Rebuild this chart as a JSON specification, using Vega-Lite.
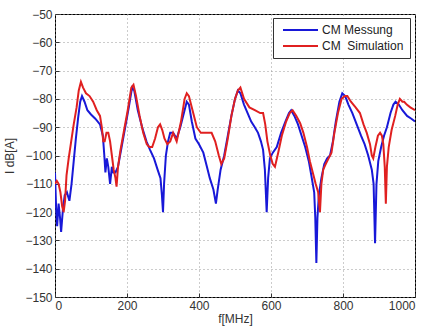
{
  "$schema": "https://vega.github.io/schema/vega-lite/v6.json",
  "autosize": {"type": "none"},
  "padding": {"left": 55, "top": 14, "right": 11, "bottom": 34},
  "width": 360,
  "height": 283,
  "background": "white",
  "config": {
    "view": {"stroke": "black", "strokeWidth": 1},
    "font": "Liberation Sans",
    "axis": {
      "labelFont": "Liberation Sans",
      "labelFontSize": 12,
      "labelColor": "#333333",
      "titleFont": "Liberation Sans",
      "titleFontSize": 12,
      "titleFontWeight": "normal",
      "titleColor": "#333333",
      "grid": true,
      "gridColor": "#999999",
      "gridDash": [1, 3],
      "gridWidth": 1,
      "domain": false,
      "tickColor": "#333333",
      "tickSize": -4,
      "labelPadding": 7
    }
  },
  "data": {
    "values": [
      {"f":0,"v":-106,"s":"CM Messung"},{"f":3,"v":-118,"s":"CM Messung"},{"f":6,"v":-125,"s":"CM Messung"},{"f":10,"v":-117,"s":"CM Messung"},{"f":14,"v":-122,"s":"CM Messung"},{"f":17,"v":-127,"s":"CM Messung"},{"f":22,"v":-119,"s":"CM Messung"},{"f":27,"v":-114,"s":"CM Messung"},{"f":33,"v":-113,"s":"CM Messung"},{"f":40,"v":-116,"s":"CM Messung"},{"f":46,"v":-110,"s":"CM Messung"},{"f":52,"v":-102,"s":"CM Messung"},{"f":58,"v":-94,"s":"CM Messung"},{"f":64,"v":-87,"s":"CM Messung"},{"f":70,"v":-81,"s":"CM Messung"},{"f":75,"v":-79,"s":"CM Messung"},{"f":82,"v":-81,"s":"CM Messung"},{"f":90,"v":-84,"s":"CM Messung"},{"f":100,"v":-85.5,"s":"CM Messung"},{"f":112,"v":-87,"s":"CM Messung"},{"f":125,"v":-89,"s":"CM Messung"},{"f":133,"v":-93,"s":"CM Messung"},{"f":137,"v":-100,"s":"CM Messung"},{"f":140,"v":-106,"s":"CM Messung"},{"f":144,"v":-101,"s":"CM Messung"},{"f":148,"v":-104,"s":"CM Messung"},{"f":153,"v":-110,"s":"CM Messung"},{"f":158,"v":-104,"s":"CM Messung"},{"f":162,"v":-106,"s":"CM Messung"},{"f":168,"v":-106,"s":"CM Messung"},{"f":175,"v":-104,"s":"CM Messung"},{"f":185,"v":-97,"s":"CM Messung"},{"f":195,"v":-90,"s":"CM Messung"},{"f":205,"v":-83,"s":"CM Messung"},{"f":214,"v":-76,"s":"CM Messung"},{"f":220,"v":-77,"s":"CM Messung"},{"f":230,"v":-84,"s":"CM Messung"},{"f":242,"v":-90,"s":"CM Messung"},{"f":254,"v":-95,"s":"CM Messung"},{"f":264,"v":-98,"s":"CM Messung"},{"f":275,"v":-101,"s":"CM Messung"},{"f":285,"v":-105,"s":"CM Messung"},{"f":293,"v":-108,"s":"CM Messung"},{"f":297,"v":-114,"s":"CM Messung"},{"f":300,"v":-120,"s":"CM Messung"},{"f":303,"v":-110,"s":"CM Messung"},{"f":308,"v":-100,"s":"CM Messung"},{"f":314,"v":-95,"s":"CM Messung"},{"f":320,"v":-92,"s":"CM Messung"},{"f":328,"v":-92,"s":"CM Messung"},{"f":338,"v":-94,"s":"CM Messung"},{"f":348,"v":-90,"s":"CM Messung"},{"f":358,"v":-85,"s":"CM Messung"},{"f":366,"v":-81,"s":"CM Messung"},{"f":372,"v":-82,"s":"CM Messung"},{"f":380,"v":-88,"s":"CM Messung"},{"f":390,"v":-94,"s":"CM Messung"},{"f":400,"v":-96,"s":"CM Messung"},{"f":412,"v":-99,"s":"CM Messung"},{"f":422,"v":-104,"s":"CM Messung"},{"f":430,"v":-108,"s":"CM Messung"},{"f":440,"v":-112,"s":"CM Messung"},{"f":447,"v":-117,"s":"CM Messung"},{"f":452,"v":-112,"s":"CM Messung"},{"f":460,"v":-105,"s":"CM Messung"},{"f":470,"v":-100,"s":"CM Messung"},{"f":480,"v":-93,"s":"CM Messung"},{"f":490,"v":-86,"s":"CM Messung"},{"f":500,"v":-80,"s":"CM Messung"},{"f":508,"v":-77,"s":"CM Messung"},{"f":515,"v":-78,"s":"CM Messung"},{"f":525,"v":-82,"s":"CM Messung"},{"f":535,"v":-85,"s":"CM Messung"},{"f":545,"v":-88,"s":"CM Messung"},{"f":555,"v":-90,"s":"CM Messung"},{"f":564,"v":-92,"s":"CM Messung"},{"f":572,"v":-95,"s":"CM Messung"},{"f":578,"v":-98,"s":"CM Messung"},{"f":583,"v":-105,"s":"CM Messung"},{"f":588,"v":-120,"s":"CM Messung"},{"f":592,"v":-108,"s":"CM Messung"},{"f":597,"v":-101,"s":"CM Messung"},{"f":605,"v":-99,"s":"CM Messung"},{"f":616,"v":-97,"s":"CM Messung"},{"f":628,"v":-92,"s":"CM Messung"},{"f":640,"v":-88,"s":"CM Messung"},{"f":650,"v":-85,"s":"CM Messung"},{"f":656,"v":-84,"s":"CM Messung"},{"f":665,"v":-86,"s":"CM Messung"},{"f":675,"v":-89,"s":"CM Messung"},{"f":685,"v":-93,"s":"CM Messung"},{"f":695,"v":-97,"s":"CM Messung"},{"f":705,"v":-102,"s":"CM Messung"},{"f":712,"v":-107,"s":"CM Messung"},{"f":720,"v":-113,"s":"CM Messung"},{"f":723,"v":-122,"s":"CM Messung"},{"f":726,"v":-138,"s":"CM Messung"},{"f":729,"v":-122,"s":"CM Messung"},{"f":733,"v":-114,"s":"CM Messung"},{"f":740,"v":-108,"s":"CM Messung"},{"f":748,"v":-103,"s":"CM Messung"},{"f":756,"v":-101,"s":"CM Messung"},{"f":764,"v":-100,"s":"CM Messung"},{"f":772,"v":-95,"s":"CM Messung"},{"f":780,"v":-88,"s":"CM Messung"},{"f":790,"v":-81,"s":"CM Messung"},{"f":798,"v":-78,"s":"CM Messung"},{"f":806,"v":-79,"s":"CM Messung"},{"f":815,"v":-82,"s":"CM Messung"},{"f":826,"v":-85,"s":"CM Messung"},{"f":838,"v":-89,"s":"CM Messung"},{"f":850,"v":-93,"s":"CM Messung"},{"f":860,"v":-96,"s":"CM Messung"},{"f":870,"v":-100,"s":"CM Messung"},{"f":880,"v":-105,"s":"CM Messung"},{"f":885,"v":-110,"s":"CM Messung"},{"f":889,"v":-131,"s":"CM Messung"},{"f":893,"v":-110,"s":"CM Messung"},{"f":898,"v":-102,"s":"CM Messung"},{"f":906,"v":-97,"s":"CM Messung"},{"f":914,"v":-93,"s":"CM Messung"},{"f":922,"v":-90,"s":"CM Messung"},{"f":932,"v":-85,"s":"CM Messung"},{"f":940,"v":-82,"s":"CM Messung"},{"f":946,"v":-81,"s":"CM Messung"},{"f":955,"v":-82,"s":"CM Messung"},{"f":965,"v":-84,"s":"CM Messung"},{"f":978,"v":-86,"s":"CM Messung"},{"f":990,"v":-87,"s":"CM Messung"},{"f":1000,"v":-88,"s":"CM Messung"},
      {"f":0,"v":-110,"s":"CM\u00a0 Simulation"},{"f":5,"v":-109,"s":"CM\u00a0 Simulation"},{"f":10,"v":-110,"s":"CM\u00a0 Simulation"},{"f":15,"v":-113,"s":"CM\u00a0 Simulation"},{"f":20,"v":-118,"s":"CM\u00a0 Simulation"},{"f":24,"v":-120,"s":"CM\u00a0 Simulation"},{"f":28,"v":-116,"s":"CM\u00a0 Simulation"},{"f":32,"v":-107,"s":"CM\u00a0 Simulation"},{"f":38,"v":-101,"s":"CM\u00a0 Simulation"},{"f":45,"v":-95,"s":"CM\u00a0 Simulation"},{"f":52,"v":-89,"s":"CM\u00a0 Simulation"},{"f":60,"v":-83,"s":"CM\u00a0 Simulation"},{"f":66,"v":-77,"s":"CM\u00a0 Simulation"},{"f":72,"v":-74,"s":"CM\u00a0 Simulation"},{"f":78,"v":-76,"s":"CM\u00a0 Simulation"},{"f":86,"v":-78,"s":"CM\u00a0 Simulation"},{"f":96,"v":-79,"s":"CM\u00a0 Simulation"},{"f":106,"v":-81,"s":"CM\u00a0 Simulation"},{"f":116,"v":-84,"s":"CM\u00a0 Simulation"},{"f":125,"v":-86,"s":"CM\u00a0 Simulation"},{"f":130,"v":-90,"s":"CM\u00a0 Simulation"},{"f":134,"v":-95,"s":"CM\u00a0 Simulation"},{"f":138,"v":-95,"s":"CM\u00a0 Simulation"},{"f":143,"v":-92,"s":"CM\u00a0 Simulation"},{"f":148,"v":-92,"s":"CM\u00a0 Simulation"},{"f":153,"v":-95,"s":"CM\u00a0 Simulation"},{"f":158,"v":-100,"s":"CM\u00a0 Simulation"},{"f":163,"v":-105,"s":"CM\u00a0 Simulation"},{"f":168,"v":-108,"s":"CM\u00a0 Simulation"},{"f":171,"v":-111,"s":"CM\u00a0 Simulation"},{"f":175,"v":-104,"s":"CM\u00a0 Simulation"},{"f":182,"v":-98,"s":"CM\u00a0 Simulation"},{"f":192,"v":-91,"s":"CM\u00a0 Simulation"},{"f":202,"v":-84,"s":"CM\u00a0 Simulation"},{"f":212,"v":-76,"s":"CM\u00a0 Simulation"},{"f":218,"v":-75,"s":"CM\u00a0 Simulation"},{"f":225,"v":-79,"s":"CM\u00a0 Simulation"},{"f":235,"v":-86,"s":"CM\u00a0 Simulation"},{"f":245,"v":-92,"s":"CM\u00a0 Simulation"},{"f":255,"v":-96,"s":"CM\u00a0 Simulation"},{"f":262,"v":-97,"s":"CM\u00a0 Simulation"},{"f":270,"v":-97,"s":"CM\u00a0 Simulation"},{"f":278,"v":-94,"s":"CM\u00a0 Simulation"},{"f":286,"v":-90,"s":"CM\u00a0 Simulation"},{"f":292,"v":-89,"s":"CM\u00a0 Simulation"},{"f":298,"v":-91,"s":"CM\u00a0 Simulation"},{"f":304,"v":-94,"s":"CM\u00a0 Simulation"},{"f":312,"v":-96,"s":"CM\u00a0 Simulation"},{"f":320,"v":-95,"s":"CM\u00a0 Simulation"},{"f":328,"v":-92,"s":"CM\u00a0 Simulation"},{"f":338,"v":-95,"s":"CM\u00a0 Simulation"},{"f":350,"v":-88,"s":"CM\u00a0 Simulation"},{"f":360,"v":-80,"s":"CM\u00a0 Simulation"},{"f":366,"v":-78,"s":"CM\u00a0 Simulation"},{"f":372,"v":-79,"s":"CM\u00a0 Simulation"},{"f":382,"v":-84,"s":"CM\u00a0 Simulation"},{"f":394,"v":-90,"s":"CM\u00a0 Simulation"},{"f":405,"v":-92,"s":"CM\u00a0 Simulation"},{"f":415,"v":-92,"s":"CM\u00a0 Simulation"},{"f":425,"v":-92,"s":"CM\u00a0 Simulation"},{"f":435,"v":-92,"s":"CM\u00a0 Simulation"},{"f":445,"v":-95,"s":"CM\u00a0 Simulation"},{"f":455,"v":-100,"s":"CM\u00a0 Simulation"},{"f":462,"v":-103,"s":"CM\u00a0 Simulation"},{"f":470,"v":-101,"s":"CM\u00a0 Simulation"},{"f":480,"v":-94,"s":"CM\u00a0 Simulation"},{"f":490,"v":-86,"s":"CM\u00a0 Simulation"},{"f":500,"v":-80,"s":"CM\u00a0 Simulation"},{"f":508,"v":-77,"s":"CM\u00a0 Simulation"},{"f":515,"v":-76,"s":"CM\u00a0 Simulation"},{"f":525,"v":-80,"s":"CM\u00a0 Simulation"},{"f":540,"v":-83,"s":"CM\u00a0 Simulation"},{"f":555,"v":-84,"s":"CM\u00a0 Simulation"},{"f":570,"v":-85,"s":"CM\u00a0 Simulation"},{"f":578,"v":-85,"s":"CM\u00a0 Simulation"},{"f":584,"v":-89,"s":"CM\u00a0 Simulation"},{"f":590,"v":-95,"s":"CM\u00a0 Simulation"},{"f":598,"v":-100,"s":"CM\u00a0 Simulation"},{"f":605,"v":-103,"s":"CM\u00a0 Simulation"},{"f":611,"v":-104,"s":"CM\u00a0 Simulation"},{"f":620,"v":-99,"s":"CM\u00a0 Simulation"},{"f":630,"v":-93,"s":"CM\u00a0 Simulation"},{"f":642,"v":-88,"s":"CM\u00a0 Simulation"},{"f":652,"v":-85,"s":"CM\u00a0 Simulation"},{"f":660,"v":-84,"s":"CM\u00a0 Simulation"},{"f":670,"v":-86,"s":"CM\u00a0 Simulation"},{"f":681,"v":-88.6,"s":"CM\u00a0 Simulation"},{"f":690,"v":-92,"s":"CM\u00a0 Simulation"},{"f":700,"v":-97,"s":"CM\u00a0 Simulation"},{"f":708,"v":-102,"s":"CM\u00a0 Simulation"},{"f":716,"v":-106,"s":"CM\u00a0 Simulation"},{"f":724,"v":-110,"s":"CM\u00a0 Simulation"},{"f":731,"v":-113,"s":"CM\u00a0 Simulation"},{"f":736,"v":-120,"s":"CM\u00a0 Simulation"},{"f":740,"v":-110,"s":"CM\u00a0 Simulation"},{"f":745,"v":-105,"s":"CM\u00a0 Simulation"},{"f":752,"v":-103,"s":"CM\u00a0 Simulation"},{"f":760,"v":-101,"s":"CM\u00a0 Simulation"},{"f":768,"v":-99,"s":"CM\u00a0 Simulation"},{"f":776,"v":-92,"s":"CM\u00a0 Simulation"},{"f":786,"v":-85,"s":"CM\u00a0 Simulation"},{"f":796,"v":-80,"s":"CM\u00a0 Simulation"},{"f":805,"v":-79,"s":"CM\u00a0 Simulation"},{"f":812,"v":-79,"s":"CM\u00a0 Simulation"},{"f":822,"v":-81,"s":"CM\u00a0 Simulation"},{"f":835,"v":-83,"s":"CM\u00a0 Simulation"},{"f":847,"v":-85,"s":"CM\u00a0 Simulation"},{"f":857,"v":-89,"s":"CM\u00a0 Simulation"},{"f":866,"v":-92,"s":"CM\u00a0 Simulation"},{"f":875,"v":-96,"s":"CM\u00a0 Simulation"},{"f":880,"v":-100,"s":"CM\u00a0 Simulation"},{"f":884,"v":-101,"s":"CM\u00a0 Simulation"},{"f":890,"v":-97,"s":"CM\u00a0 Simulation"},{"f":897,"v":-93,"s":"CM\u00a0 Simulation"},{"f":903,"v":-92,"s":"CM\u00a0 Simulation"},{"f":908,"v":-93,"s":"CM\u00a0 Simulation"},{"f":912,"v":-96,"s":"CM\u00a0 Simulation"},{"f":916,"v":-104,"s":"CM\u00a0 Simulation"},{"f":919,"v":-117,"s":"CM\u00a0 Simulation"},{"f":922,"v":-104,"s":"CM\u00a0 Simulation"},{"f":927,"v":-97,"s":"CM\u00a0 Simulation"},{"f":935,"v":-91,"s":"CM\u00a0 Simulation"},{"f":945,"v":-86,"s":"CM\u00a0 Simulation"},{"f":952,"v":-82,"s":"CM\u00a0 Simulation"},{"f":958,"v":-80,"s":"CM\u00a0 Simulation"},{"f":965,"v":-81,"s":"CM\u00a0 Simulation"},{"f":970,"v":-81,"s":"CM\u00a0 Simulation"},{"f":977,"v":-82,"s":"CM\u00a0 Simulation"},{"f":987,"v":-83,"s":"CM\u00a0 Simulation"},{"f":1000,"v":-84,"s":"CM\u00a0 Simulation"}
    ]
  },
  "mark": {"type": "line", "strokeWidth": 2, "clip": true},
  "encoding": {
    "x": {
      "field": "f", "type": "quantitative",
      "scale": {"domain": [0, 1000], "nice": false},
      "axis": {"values": [0, 200, 400, 600, 800, 1000], "format": "d", "title": "f[MHz]", "titlePadding": 2}
    },
    "y": {
      "field": "v", "type": "quantitative",
      "scale": {"domain": [-150, -50], "nice": false},
      "axis": {"values": [-150, -140, -130, -120, -110, -100, -90, -80, -70, -60, -50], "title": "I dB[A]", "titlePadding": 8}
    },
    "color": {
      "field": "s", "type": "nominal",
      "sort": ["CM Messung", "CM\u00a0 Simulation"],
      "scale": {"domain": ["CM Messung", "CM\u00a0 Simulation"], "range": ["#1818d8", "#e02020"]},
      "legend": {
        "title": null,
        "orient": "none",
        "legendX": 218,
        "legendY": 4,
        "direction": "vertical",
        "symbolType": "stroke",
        "symbolSize": 1225,
        "symbolStrokeWidth": 2,
        "symbolOffset": 3,
        "clipHeight": 12,
        "labelFont": "Liberation Sans",
        "labelFontSize": 12,
        "labelColor": "#222222",
        "labelOffset": 3,
        "rowPadding": 4,
        "padding": 6,
        "strokeColor": "#333333",
        "fillColor": "white",
        "cornerRadius": 0
      }
    }
  }
}
